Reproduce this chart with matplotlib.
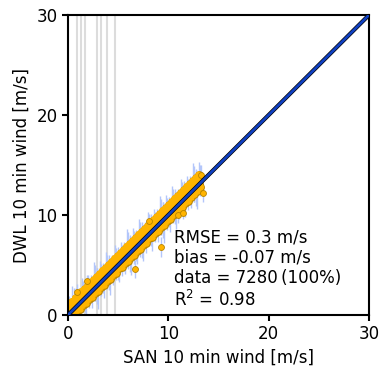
import matplotlib
matplotlib.use("Agg")
import matplotlib.pyplot as plt

# ---- data ----
row1_x = [0.0,0.3,0.6,0.9,1.2,1.5,1.8,2.1,2.4,2.7,3.0,3.3,3.6,3.9,4.2,4.5,4.8,5.1,5.4,5.7,6.0,6.3,6.6,6.9,7.2,7.5,7.8,8.1,8.4,8.7,9.0,9.3,9.6,9.9,10.2,10.5,10.8,11.1,11.4,11.7,12.0,12.3,12.6,12.9,13.2]
row1_y = [0.05,0.0,0.15,0.45,0.65,1.05,1.25,1.65,1.85,2.25,2.45,2.85,3.05,3.45,3.65,4.05,4.25,4.7,4.85,5.25,5.45,5.85,6.05,6.45,6.65,7.05,7.25,7.7,7.85,8.25,8.4,8.85,9.05,9.45,9.65,10.05,10.25,10.65,10.85,11.25,11.45,11.85,12.1,12.45,12.8]
row2_x = [0.15,0.45,0.75,1.05,1.35,1.65,1.95,2.25,2.55,2.85,3.15,3.45,3.75,4.05,4.35,4.65,4.95,5.25,5.55,5.85,6.15,6.45,6.75,7.05,7.35,7.65,7.95,8.25,8.55,8.85,9.15,9.45,9.75,10.05,10.35,10.65,10.95,11.25,11.55,11.85,12.15,12.45,12.75,13.05]
row2_y = [0.2,0.5,0.75,1.1,1.35,1.7,1.95,2.3,2.55,2.9,3.15,3.5,3.75,4.1,4.35,4.7,4.95,5.3,5.55,5.9,6.15,6.5,6.75,7.1,7.35,7.7,7.95,8.3,8.55,8.9,9.15,9.5,9.75,10.1,10.35,10.7,10.95,11.3,11.55,11.9,12.15,12.5,12.75,13.1]
row3_y = [0.5,0.8,1.1,1.4,1.7,2.0,2.3,2.65,2.9,3.2,3.5,3.85,4.1,4.4,4.7,5.05,5.3,5.6,5.9,6.25,6.5,6.8,7.1,7.45,7.7,8.0,8.3,8.65,8.9,9.2,9.5,9.85,10.1,10.4,10.7,11.05,11.3,11.6,11.9,12.25,12.5,12.8,13.1,13.45,13.7]
row4_y = [1.1,1.35,1.7,2.0,2.35,2.6,2.9,3.25,3.5,3.8,4.1,4.45,4.7,5.0,5.3,5.65,5.9,6.2,6.5,6.85,7.1,7.4,7.7,8.05,8.3,8.6,8.9,9.25,9.5,9.8,10.1,10.45,10.7,11.0,11.3,11.65,11.9,12.2,12.5,12.85,13.1,13.4,13.7,14.0]
out_x = [0.87,1.92,6.7,8.1,9.24,11.0,11.5,13.5,13.3]
out_y = [2.33,3.43,4.57,9.43,6.77,10.0,10.2,12.2,14.0]
out_err = [0.8,0.6,0.9,0.7,1.0,0.8,0.6,0.9,1.0]

vlines_x = [0.87,1.33,1.66,2.92,3.32,3.89,4.69]

band_x = row1_x + row2_x + row1_x + row2_x
band_y = row1_y + row2_y + row3_y + row4_y
err_pattern = [0.9, 1.3, 0.8, 1.6, 1.0, 0.7, 1.4, 0.9, 1.1, 0.8, 1.8]
band_err = [err_pattern[i % len(err_pattern)] for i in range(len(band_x))]

# ---- figure ----
fig = plt.figure(figsize=(3.83, 3.69), dpi=100)
ax = fig.add_axes([0.1775, 0.1463, 0.7859, 0.8130])

for v in vlines_x:
    ax.axvline(v, color='#dcdcdc', lw=1.5, zorder=0)

ecol = '#b3c6fa'
ax.errorbar(band_x, band_y, yerr=band_err, fmt='none', ecolor=ecol, elinewidth=1.0, zorder=1)
ax.errorbar(out_x, out_y, yerr=out_err, fmt='none', ecolor=ecol, elinewidth=1.0, zorder=1)
# outline pass then fill pass, so the dense cloud reads as one solid band
ax.scatter(band_x, band_y, s=30, c='#FFB400', edgecolors='#b88400', linewidths=0.8, zorder=2)
ax.scatter(band_x, band_y, s=26, c='#FFB400', edgecolors='none', zorder=2.5)
ax.scatter(out_x, out_y, s=18, c='#FFB400', edgecolors='#b88400', linewidths=0.6, zorder=2.6)

ax.plot([0, 30], [0, 30], color='black', lw=3.0, zorder=3)
ax.plot([0, 30], [0, 30], color='#1040C0', lw=2.0, zorder=4)

ax.set_xlim(0, 30)
ax.set_ylim(0, 30)
ax.set_xticks([0, 10, 20, 30])
ax.set_yticks([0, 10, 20, 30])
ax.tick_params(labelsize=12, width=1.5, length=4)
for s in ax.spines.values():
    s.set_linewidth(1.5)
ax.set_xlabel('SAN 10 min wind [m/s]', fontsize=12)
ax.set_ylabel('DWL 10 min wind [m/s]', fontsize=12)

ax.text(10.6, 4.6, 'RMSE = 0.3 m/s\nbias = -0.07 m/s\ndata = 7280\u2009(100%)\nR$^2$ = 0.98',
        fontsize=12, va='center', ha='left', linespacing=1.17, zorder=5)

fig.savefig('out.png', dpi=100)
